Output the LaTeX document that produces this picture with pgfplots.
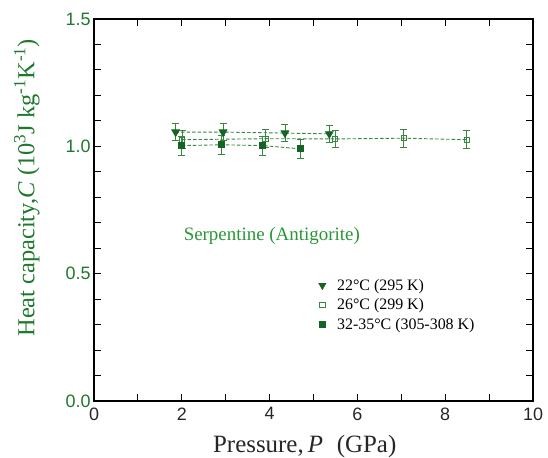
\documentclass[border=0pt]{standalone}
\usepackage{pgfplots}
\pgfplotsset{compat=1.18}
\usepackage{fontspec}
\setmainfont{Liberation Serif}
\newfontfamily\sansf{Liberation Sans}
\definecolor{dg}{RGB}{22,100,36}
\definecolor{lg}{RGB}{55,135,65}
\definecolor{tg}{RGB}{40,150,55}
\definecolor{yl}{RGB}{30,120,45}
\begin{document}
\begin{tikzpicture}
\path[use as bounding box] (-94bp,-57bp) rectangle (454bp,401bp);
\begin{axis}[
 at={(0,0)}, anchor=south west, scale only axis, width=439bp, height=382bp,
 xmin=0, xmax=10, ymin=0, ymax=1.5,
 xtick={0,2,4,6,8,10}, xticklabels={0,2,4,6,8,10}, minor x tick num=1,
 ytick={0,0.5,1,1.5}, yticklabels={0.0,0.5,1.0,1.5}, minor y tick num=4,
 tick align=inside, major tick length=7bp, minor tick length=7bp,
 tick style={black, line width=1bp},
 axis line style={line width=1.2bp},
 xticklabel style={font=\sansf\fontsize{18}{20}\selectfont, text=black!85, yshift=-3bp},
 yticklabel style={font=\sansf\fontsize{18}{20}\selectfont, text=yl},
 xlabel={Pressure,\,\textit{P}\hspace{0.55em}(GPa)},
 xlabel style={font=\fontsize{25}{28}\selectfont, text=black!85, at={(axis description cs:0.48,-0.136)}, anchor=base},
 ylabel={Heat capacity,\textit{C} (10\textsuperscript{3}J kg\textsuperscript{-1}K\textsuperscript{-1})},
 ylabel style={font=\fontsize{24.5}{28}\selectfont, text=yl, at={(axis description cs:-0.153,0.558)}, anchor=center},
]
\addplot[lg, dash pattern=on 3.5bp off 2bp, line width=0.9bp, mark=triangle*, mark size=4.3bp, mark options={solid, rotate=180, fill=dg, draw=dg},
  error bars/.cd, y dir=both, y explicit, error bar style={solid, line width=0.9bp}, error mark options={rotate=90, mark size=3.5bp, line width=0.9bp}]
  coordinates {(1.86,1.056) +- (0,0.032) (2.94,1.056) +- (0,0.032) (4.35,1.052) +- (0,0.032) (5.36,1.049) +- (0,0.032)};
\addplot[lg, dash pattern=on 3.5bp off 2bp, line width=0.9bp, mark=square, mark size=2.7bp, mark options={solid, fill=white, line width=0.9bp},
  error bars/.cd, y dir=both, y explicit, error bar style={solid, line width=0.9bp}, error mark options={rotate=90, mark size=3.5bp, line width=0.9bp}]
  coordinates {(2.01,1.026) +- (0,0.035) (3.91,1.03) +- (0,0.035) (5.49,1.029) +- (0,0.035) (7.06,1.032) +- (0,0.035) (8.49,1.026) +- (0,0.035)};
\addplot[lg, dash pattern=on 3.5bp off 2bp, line width=0.9bp, mark=square*, mark size=3bp, mark options={solid, fill=dg, draw=dg},
  error bars/.cd, y dir=both, y explicit, error bar style={solid, line width=0.9bp}, error mark options={rotate=90, mark size=3.5bp, line width=0.9bp}]
  coordinates {(2.0,1.003) +- (0,0.037) (2.91,1.006) +- (0,0.037) (3.84,1.003) +- (0,0.037) (4.71,0.99) +- (0,0.037)};
\end{axis}
\begin{axis}[
 at={(0,0)}, anchor=south west, scale only axis, width=439bp, height=382bp,
 xmin=0, xmax=10, ymin=0, ymax=1.5, hide axis,
 legend style={at={(0.5,0.33)}, anchor=north west, draw=none, fill=none, font=\fontsize{16}{19}\selectfont, row sep=3bp},
 legend cell align=left,
 legend image code/.code={\draw[#1] plot coordinates {(0.2cm,0cm)}; \path[draw=none, fill=none] (0cm,-0.1cm) rectangle (0.65cm,0.1cm);},
]
\addlegendimage{only marks, dg, mark=triangle*, mark size=4.3bp, mark options={rotate=180, fill=dg}}
\addlegendentry{22°C (295 K)}
\addlegendimage{only marks, lg, mark=square, mark size=2.7bp, mark options={fill=white, line width=0.9bp}}
\addlegendentry{26°C (299 K)}
\addlegendimage{only marks, dg, mark=square*, mark size=3bp, mark options={fill=dg}}
\addlegendentry{32-35°C (305-308 K)}
\node[font=\fontsize{19}{22}\selectfont, text=tg] at (axis cs:4.05,0.649) {Serpentine (Antigorite)};
\end{axis}
\end{tikzpicture}
\end{document}
